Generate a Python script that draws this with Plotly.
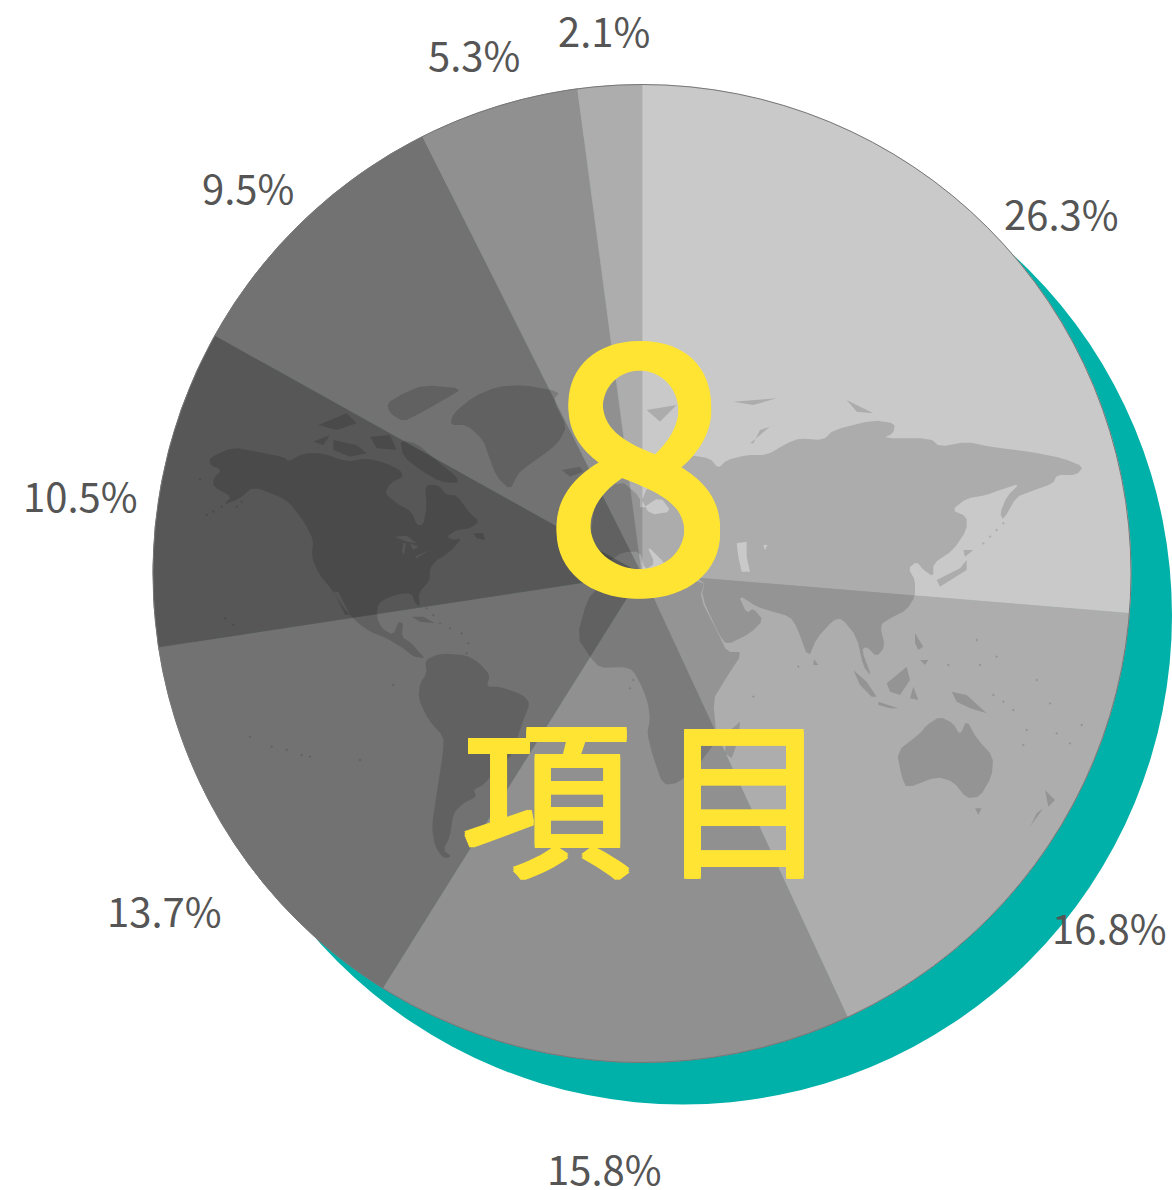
import plotly.graph_objects as go

W, H = 1172, 1190

# --- chart data ---
CATEGORIES = ["A", "B", "C", "D", "E", "F", "G", "H"]
VALUES = [26.3, 16.8, 15.8, 13.7, 10.5, 9.5, 5.3, 2.1]
SLICE_COLORS = ["#c9c9c9", "#adadad", "#909090", "#727272", "#575757", "#727272", "#909090", "#adadad"]
LABEL_CENTERS = [(1061, 213), (1109, 927), (604, 1168), (164, 910), (80, 495), (248, 187), (474, 54), (604, 30)]
CENTER_NUMBER = "8"
CENTER_WORD = "項\u2006目"

# --- decorative world map outlines ---
WEST = [
    [(60,262),(130,232),(200,245),(285,262),(295,275),(340,250),(400,250),(470,275),(530,265),(590,280),(630,300),(640,320),(600,340),(585,370),(620,400),(665,425),(680,465),(700,465),(710,410),(705,345),(745,345),(770,375),(800,375),(840,430),(868,455),(840,475),(800,480),(770,500),(790,510),(815,505),(790,535),(760,560),(740,570),(720,595),(720,630),(685,670),(690,710),(675,700),(665,670),(630,672),(600,680),(565,700),(560,740),(575,775),(610,795),(625,755),(640,760),(635,800),(665,820),(690,850),(705,865),(670,860),(640,835),(590,805),(540,785),(505,760),(470,725),(430,665),(385,610),(365,560),(370,510),(345,460),(300,400),(270,380),(190,350),(150,385),(100,405),(125,380),(70,350),(70,325),(95,300),(60,285)],
    [(790,130),(850,80),(920,50),(1000,45),(1110,65),(1090,90),(1130,170),(1110,210),(1080,240),(1010,290),(985,310),(960,360),(920,320),(900,270),(880,210),(830,165),(780,165)],
    [(590,100),(640,70),(700,45),(820,55),(760,90),(690,130),(640,155),(600,130)],
    [(630,210),(680,220),(750,280),(800,320),(805,340),(750,335),(690,300),(640,260)],
    [(430,210),(500,225),(530,250),(480,260),(430,240)],
    [(370,215),(420,195),(400,225)],
    [(385,165),(470,130),(500,160),(440,180)],
    [(540,200),(600,195),(620,240),(560,235)],
    [(850,490),(880,490),(885,510),(860,505)],
    [(1115,300),(1170,290),(1180,305),(1140,320)],
    [(665,740),(700,740),(735,760),(690,755)],
    [(705,870),(750,850),(830,855),(870,880),(900,915),(890,950),(930,950),(1000,975),(1020,1000),(1000,1050),(985,1095),(970,1150),(920,1200),(880,1245),(850,1260),(860,1280),(820,1300),(790,1330),(780,1400),(760,1440),(785,1460),(760,1465),(735,1430),(725,1370),(740,1270),(760,1140),(760,1100),(715,1050),(685,985),(690,940),(710,910)],
]
WEST_HOLES = [
    [(615,500),(650,497),(680,520),(650,515)],
    [(640,520),(648,520),(642,555),(636,545)],
    [(660,520),(685,530),(670,540)],
    [(675,560),(718,540),(680,565)],
    [(432,665),(445,665),(480,735),(465,735)],
]
WEST_DOTS = [(30,328),(50,435),(70,425),(95,410),(140,410),(155,395),(710,715),(730,735),(750,760),(780,775),(815,790),(835,820),(830,850),(610,945),(180,1100),(245,1130),(290,1140),(335,1155),(360,1160),(510,1170),(105,745),(130,765)]
EAST = [
    [(300,225),(360,235),(385,265),(410,240),(470,225),(530,225),(590,190),(630,175),(700,180),(730,150),(850,120),(915,130),(910,160),(880,175),(1020,175),(1050,200),(1130,185),(1200,200),(1320,215),(1420,235),(1480,260),(1460,285),(1400,285),(1390,310),(1320,335),(1280,350),(1240,420),(1230,400),(1250,350),(1290,310),(1230,330),(1190,345),(1130,355),(1085,390),(1130,410),(1130,450),(1090,510),(1030,550),(1030,590),(1000,570),(980,545),(955,565),(975,600),(975,650),(950,690),(900,715),(870,735),(885,800),(860,830),(830,800),(815,810),(845,890),(820,860),(800,770),(755,715),(730,720),(680,775),(655,835),(620,740),(600,710),(530,690),(500,680),(445,645),(470,700),(490,685),(520,720),(480,760),(410,795),(385,760),(335,650),(345,600),(240,585),(225,550),(170,495),(195,550),(165,570),(150,515),(99,516),(54,546),(0,480),(15,360),(90,300),(150,350),(150,390),(210,350),(245,395),(180,405),(150,350),(240,255)],
    [(1130,540),(1130,570),(1050,620),(1040,600),(1110,565)],
    [(1120,510),(1150,510),(1125,530)],
    [(450,1025),(445,1080),(425,1135),(405,1120),(410,1060)],
    [(790,870),(830,905),(860,950),(845,950),(810,915)],
    [(865,965),(925,985),(900,985),(865,975)],
    [(890,910),(950,860),(960,900),(930,945),(900,935)],
    [(970,920),(985,960),(960,955)],
    [(975,760),(1000,800),(985,810),(975,790)],
    [(990,840),(1015,840),(1005,855)],
    [(1085,935),(1130,945),(1190,1000),(1140,985),(1100,965)],
    [(672,838),(685,855),(670,855)],
    [(920,1115),(990,1060),(1010,1035),(1050,1010),(1090,1030),(1110,1065),(1130,1020),(1160,1075),(1210,1130),(1205,1190),(1170,1250),(1130,1255),(1090,1205),(1040,1190),(950,1225),(935,1190)],
    [(1155,1285),(1175,1285),(1165,1305)],
    [(1365,1230),(1395,1260),(1375,1280)],
    [(1360,1285),(1320,1340),(1340,1300)],
    [(480,190),(540,140),(590,125),(510,150),(490,190)],
    [(170,90),(260,75),(210,125)],
    [(430,65),(560,55),(490,75)],
    [(770,60),(850,100),(800,95)],
]
EAST_HOLES = [
    [(440,490),(470,485),(470,530),(480,575),(455,575),(445,530)],
    [(520,495),(532,495),(525,510)],
]
EAST_DOTS = [(1180,490),(1200,470),(1220,450),(1240,430),(1160,780),(1220,830),(1210,945),(1240,965),(1270,990),(1310,1050),(1300,1095),(1400,1060),(1440,1090),(1380,970),(1340,900),(1475,1035),(1075,855),(1170,855),(625,860),(130,900),(120,925),(490,950)]
AFRICA = [(705,580),(640,578),(600,585),(587,600),(577,637),(590,657),(600,668),(623,667),(633,670),(642,687),(648,703),(650,720),(647,733),(653,757),(663,785),(678,783),(697,767),(717,740),(713,700),(723,683),(743,652),(727,652),(718,633),(700,598)]


def px(x):
    return x / W


def py(y):
    return 1 - y / H


def west(p):
    return [(190 + x / 3, 370 + y / 3) for x, y in p]


def east(p):
    return [(590 + x / 3, 380 + y / 3) for x, y in p]


def area(points):
    return sum(a[0] * b[1] - b[0] * a[1] for a, b in zip(points, points[1:] + points[:1]))


def soften(points):
    # cut corners once so the long outlines look less faceted
    if len(points) < 8:
        return points
    out = []
    for a, b in zip(points, points[1:] + points[:1]):
        out.append((0.8 * a[0] + 0.2 * b[0], 0.8 * a[1] + 0.2 * b[1]))
        out.append((0.2 * a[0] + 0.8 * b[0], 0.2 * a[1] + 0.8 * b[1]))
    return out


def subpath(points, hole=False):
    # outer rings run one way round, holes the other, so the non-zero fill cuts the holes
    points = soften(points)
    if (area(points) < 0) != hole:
        points = points[::-1]
    return "M" + "L".join(f"{px(x):.5f},{py(y):.5f}" for x, y in points) + "Z"


def dot(x, y, r=1.4):
    return [(x - r, y), (x, y - r), (x + r, y), (x, y + r)]


paths = [subpath(west(p)) for p in WEST] + [subpath(east(p)) for p in EAST] + [subpath(AFRICA)]
paths += [subpath(west(p), True) for p in WEST_HOLES] + [subpath(east(p), True) for p in EAST_HOLES]
paths += [subpath(dot(*west([p])[0])) for p in WEST_DOTS] + [subpath(dot(*east([p])[0])) for p in EAST_DOTS]

PIE_LEFT, PIE_RIGHT, PIE_TOP, PIE_BOTTOM = 153, 1131, 84.5, 1062.5
SHADOW_DX, SHADOW_DY = 41, 42

fig = go.Figure(
    go.Pie(
        labels=CATEGORIES,
        values=VALUES,
        sort=False,
        direction="clockwise",
        rotation=0,
        textinfo="none",
        hoverinfo="label+percent",
        showlegend=False,
        marker=dict(colors=SLICE_COLORS, line=dict(width=0.8, color=SLICE_COLORS)),
        domain=dict(x=[px(PIE_LEFT), px(PIE_RIGHT)], y=[py(PIE_BOTTOM), py(PIE_TOP)]),
    )
)

shapes = [
    dict(type="circle", xref="paper", yref="paper", layer="below",
         x0=px(PIE_LEFT + SHADOW_DX), x1=px(PIE_RIGHT + SHADOW_DX),
         y0=py(PIE_BOTTOM + SHADOW_DY), y1=py(PIE_TOP + SHADOW_DY),
         fillcolor="#00b1a9", line=dict(width=0)),
    dict(type="path", xref="paper", yref="paper", layer="above", path=" ".join(paths),
         fillcolor="rgba(0,0,0,0.14)", line=dict(width=0)),
    dict(type="circle", xref="paper", yref="paper", layer="above",
         x0=px(PIE_LEFT), x1=px(PIE_RIGHT), y0=py(PIE_BOTTOM), y1=py(PIE_TOP),
         fillcolor="rgba(0,0,0,0)", line=dict(width=1, color="#777777")),
]


def halo(n):
    c = "#ffe433"
    steps = [(n, 0), (-n, 0), (0, n), (0, -n), (n, n), (-n, n), (n, -n), (-n, -n)]
    return ", ".join(f"{a}px {b}px 0 {c}" for a, b in steps)


FONT = "Noto Sans CJK JP"
annotations = [
    dict(x=px(x), y=py(y), xref="paper", yref="paper", text=f"{v}%", showarrow=False,
         xanchor="center", yanchor="middle", font=dict(family=FONT, size=40, color="#555555"))
    for v, (x, y) in zip(VALUES, LABEL_CENTERS)
]
annotations += [
    dict(x=px(639), y=py(443), xref="paper", yref="paper", text=CENTER_NUMBER, showarrow=False,
         xanchor="center", yanchor="middle",
         font=dict(family=FONT, size=340, color="#ffe433", shadow=halo(3))),
    dict(x=px(645), y=py(790), xref="paper", yref="paper", text=CENTER_WORD, showarrow=False,
         xanchor="center", yanchor="middle",
         font=dict(family=FONT, size=170, color="#ffe433", shadow=halo(2))),
]

fig.update_layout(
    width=W, height=H, autosize=False,
    margin=dict(l=0, r=0, t=0, b=0),
    paper_bgcolor="#ffffff", plot_bgcolor="#ffffff",
    shapes=shapes, annotations=annotations,
)
fig.write_html("out.html", config={"displayModeBar": False},
               post_script="document.body.style.margin='0';")
